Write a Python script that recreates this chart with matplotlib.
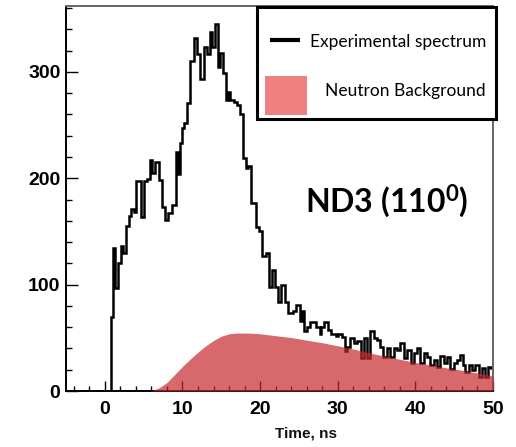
import matplotlib
matplotlib.use("Agg")
import matplotlib.pyplot as plt
from matplotlib.patches import Rectangle
from matplotlib.lines import Line2D
from matplotlib.ticker import MultipleLocator, FixedLocator

# ---------------- data ----------------
# experimental spectrum: bin edges (ns) and counts per bin
time_edges = [0.78, 1.03, 1.29, 1.64, 2.07, 2.33, 2.67, 3.10, 3.36, 3.71, 4.05,
              4.66, 5.05, 5.48, 5.78, 6.12, 6.47, 6.99, 7.42, 7.76, 8.19, 8.71,
              9.23, 9.40, 9.65, 9.95, 10.22, 10.56, 10.99, 11.51, 11.86, 12.29,
              12.72, 13.15, 13.50, 13.84, 14.19, 14.53, 14.88, 15.22, 15.57,
              15.83, 16.17, 16.60, 17.03, 17.46, 17.81, 18.15, 18.50, 18.85,
              19.49, 19.92, 20.22, 20.78, 21.20, 21.55, 21.95, 22.30, 22.75,
              23.15, 23.60, 24.20, 24.67, 25.10, 25.40, 25.70, 26.10, 26.39,
              27.25, 27.69, 27.90, 28.20, 28.76, 29.19, 29.75, 30.06, 30.49,
              30.92, 31.22, 31.57, 32.08, 32.51, 32.95, 33.38, 33.81, 34.15,
              34.67, 35.02, 35.45, 35.88, 36.40, 36.74, 37.26, 37.60, 38.03,
              38.55, 38.98, 39.41, 39.76, 40.19, 40.62, 41.05, 41.48, 41.91,
              42.35, 42.78, 43.21, 43.64, 44.07, 44.50, 44.93, 45.36, 45.80,
              46.14, 46.44, 46.87, 47.30, 47.74, 48.17, 48.60, 49.03, 49.33,
              49.68, 50.00, 50.40]
counts = [70, 134, 97, 120, 136, 130, 155, 165, 171, 168, 197,
          164, 197, 199, 217, 205, 215, 198, 173, 161, 167, 175,
          225, 204, 233, 247, 252, 271, 310, 332, 317, 293,
          323, 317, 338, 323, 345, 305, 318, 299, 274,
          281, 274, 272, 269, 260, 219, 210, 212, 177,
          154, 150, 127, 130, 98, 114, 98, 84, 100,
          84, 73, 75, 81, 66, 75, 56, 60, 65,
          60, 54, 60, 65, 57, 54, 52, 54, 51,
          38, 41, 50, 45, 47, 31, 50, 31, 56,
          50, 48, 41, 32, 40, 32, 40, 39, 45,
          31, 39, 26, 36, 40, 26, 36, 32, 24,
          29, 23, 33, 26, 32, 21, 26, 29, 34,
          24, 18, 24, 20, 24, 13, 22, 13, 23,
          22, 25]

# neutron background
bg_time = [5.9, 6.5, 7, 8, 9, 10, 11, 12, 13, 14, 15, 16, 17, 18, 19, 20,
           22, 24, 26, 28, 30, 32, 34, 36, 38, 40, 42, 44, 46, 48, 50]
bg_counts = [0, 1.5, 3, 8, 15.5, 23, 30, 36.5, 42.5, 47.5, 51.5, 53.8, 54.5,
             54.5, 54.3, 53.8, 52, 50.3, 47.8, 45.4, 42.5, 39.5, 36, 32.8,
             29.8, 26.8, 24.3, 21.8, 19.5, 17, 14]

x_ticks = [0, 10, 20, 30, 40, 50]
y_ticks = [0, 100, 200, 300]

# ---------------- figure ----------------
W, H = 516, 447
fig = plt.figure(figsize=(W / 100, H / 100), dpi=100)
ax = fig.add_axes([66 / W, 56 / H, 427 / W, 385 / H])

ax.stairs([0] + counts, [-5.0] + time_edges, color="black", lw=1.8,
          baseline=0, zorder=2)
ax.fill_between(bg_time, bg_counts, 0, color=(0.78, 0.16, 0.18), alpha=0.7,
                lw=0, zorder=3)

ax.set_xlim(-5, 50)
ax.set_ylim(0, 362)

ax.xaxis.set_major_locator(FixedLocator(x_ticks))
ax.xaxis.set_minor_locator(MultipleLocator(2))
ax.yaxis.set_major_locator(FixedLocator(y_ticks))
ax.yaxis.set_minor_locator(MultipleLocator(20))

ax.tick_params(which="both", direction="in", top=False, right=False,
               colors="black", width=1.0)
ax.xaxis.set_tick_params(which="major", length=7, pad=7)
ax.xaxis.set_tick_params(which="minor", length=3.5)
ax.yaxis.set_tick_params(which="major", length=8.5, pad=4)
ax.yaxis.set_tick_params(which="minor", length=4.3)

for lab in ax.get_xticklabels() + ax.get_yticklabels():
    lab.set_fontfamily("Liberation Sans")
    lab.set_fontweight("bold")
    lab.set_fontsize(14)

for s in ["left", "bottom"]:
    ax.spines[s].set_color("black")
    ax.spines[s].set_linewidth(1.4)
for s in ["top", "right"]:
    ax.spines[s].set_color("#666666")
    ax.spines[s].set_linewidth(1.4)

# x label
fig.text(306 / W, 1 - 433 / H, "Time, ns", ha="center", va="center",
         fontsize=11, fontweight="bold", family="Liberation Sans",
         color="#111111")

# annotation
plt.rcParams["mathtext.default"] = "regular"
fig.text(305 / W, 1 - 213 / H, r"ND3 (110$^{0}$)", ha="left", va="baseline",
         fontsize=23, fontweight="bold", family="Lato", color="black")

# legend box (drawn by hand in figure coordinates)
fig.add_artist(Rectangle((257 / W, 1 - 119 / H), 239 / W, 112 / H,
                         transform=fig.transFigure, facecolor="white",
                         edgecolor="black", lw=2.2, zorder=10))
fig.add_artist(Line2D([270 / W, 300 / W], [1 - 40 / H, 1 - 40 / H],
                      transform=fig.transFigure, color="black", lw=3,
                      solid_capstyle="butt", zorder=11))
fig.add_artist(Rectangle((265 / W, 1 - 115 / H), 42 / W, 39 / H,
                         transform=fig.transFigure, facecolor="#f08080",
                         edgecolor="none", zorder=11))
fig.text(310 / W, 1 - 42 / H, "Experimental spectrum", ha="left",
         va="center", fontsize=12.5, family="Lato", color="black", zorder=12)
fig.text(325 / W, 1 - 91 / H, "Neutron Background", ha="left",
         va="center", fontsize=12.5, family="Lato", color="black", zorder=12)

fig.savefig("out.png", dpi=100)
